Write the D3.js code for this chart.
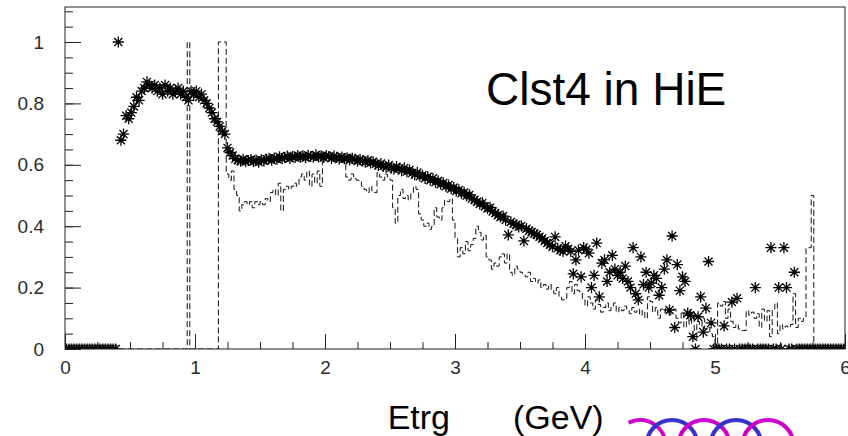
<!DOCTYPE html>
<html>
<head>
<meta charset="utf-8">
<script src="https://cdn.jsdelivr.net/npm/d3@7"></script>
<style>
  html, body { margin: 0; padding: 0; background: #ffffff; }
  svg { display: block; }
  text { font-family: "Liberation Sans", Arial, Helvetica, sans-serif; }
</style>
</head>
<body>
<svg id="chart" width="848" height="436"></svg>
<script>
// Binning: 300 bins of 0.02 GeV covering 0 - 6 GeV
const binStart = 0;
const binWidth = 0.02;

// Efficiency per bin (asterisk markers), one row = 0.2 GeV
const efficiency = [
  0,0,0,0,0,0,0,0,0,0,
  0,0,0,0,0,0,0,0,0,0,
  1.00,0.68,0.70,0.76,0.75,0.77,0.79,0.82,0.81,0.84,
  0.85,0.87,0.86,0.85,0.86,0.84,0.85,0.83,0.86,0.84,
  0.85,0.83,0.84,0.85,0.83,0.84,0.82,0.81,0.84,0.83,
  0.84,0.82,0.83,0.81,0.80,0.785,0.77,0.75,0.74,0.725,
  0.71,0.70,0.655,0.64,0.63,0.620,0.615,0.612,0.618,0.610,
  0.614,0.617,0.611,0.615,0.609,0.616,0.613,0.618,0.621,0.615,
  0.622,0.618,0.626,0.620,0.624,0.628,0.621,0.627,0.624,0.630,
  0.625,0.629,0.623,0.631,0.627,0.625,0.632,0.626,0.629,0.624,
  0.630,0.627,0.621,0.628,0.624,0.619,0.625,0.620,0.623,0.616,
  0.621,0.618,0.612,0.617,0.613,0.609,0.614,0.606,0.610,0.603,
  0.598,0.604,0.596,0.592,0.599,0.590,0.586,0.594,0.588,0.581,
  0.590,0.578,0.583,0.573,0.568,0.575,0.563,0.566,0.556,0.561,
  0.550,0.556,0.543,0.548,0.537,0.541,0.530,0.534,0.522,0.526,
  0.515,0.518,0.507,0.510,0.499,0.502,0.490,0.486,0.480,0.473,
  0.476,0.464,0.458,0.461,0.448,0.443,0.436,0.430,0.433,0.420,
  0.372,0.414,0.408,0.404,0.398,0.401,0.352,0.392,0.385,0.381,
  0.376,0.372,0.366,0.360,0.352,0.345,0.340,0.333,0.365,0.328,
  0.322,0.318,0.335,0.326,0.318,0.245,0.290,0.322,0.235,0.330,
  0.325,0.312,0.200,0.240,0.345,0.170,0.280,0.290,0.220,0.250,
  0.305,0.260,0.240,0.250,0.230,0.270,0.220,0.200,0.330,0.180,
  0.160,0.300,0.210,0.250,0.200,0.215,0.240,0.230,0.175,0.200,
  0.260,0.290,0.127,0.368,0.070,0.275,0.190,0.235,0.220,0.117,
  0.110,0.040,0.000,0.105,0.170,0.055,0.133,0.285,0.085,0.000,
  0,0,0,0.075,0,0,0.153,0,0.165,0,
  0,0,0,0,0,0.200,0,0,0,0,
  0,0.330,0,0,0.200,0,0.330,0.200,0,0,
  0.250,0,0,0,0,0,0,0,0,0,
  0,0,0,0,0,0,0,0,0,0
];

// Reference distribution per bin (dashed histogram), one row = 0.2 GeV
const reference = [
  0,0,0,0,0,0,0,0,0,0,
  0,0,0,0,0,0,0,0,0,0,
  0,0,0,0,0,0,0,0,0,0,
  0,0,0,0,0,0,0,0,0,0,
  0,0,0,0,0,0,0,1.00,0,0,
  0,0,0,0,0,0,0,0,0,1.00,
  1.00,1.00,0.57,0.55,0.58,0.52,0.50,0.45,0.47,0.48,
  0.47,0.48,0.46,0.48,0.47,0.48,0.47,0.49,0.48,0.51,
  0.52,0.50,0.54,0.45,0.52,0.53,0.52,0.53,0.54,0.53,
  0.56,0.57,0.55,0.58,0.53,0.57,0.54,0.58,0.53,0.61,
  0.62,0.63,0.62,0.61,0.62,0.63,0.62,0.61,0.56,0.55,
  0.57,0.555,0.55,0.545,0.53,0.52,0.51,0.53,0.515,0.51,
  0.575,0.56,0.55,0.57,0.56,0.55,0.46,0.41,0.50,0.52,
  0.49,0.50,0.485,0.51,0.53,0.52,0.44,0.42,0.40,0.41,
  0.39,0.40,0.46,0.43,0.42,0.46,0.485,0.48,0.49,0.42,
  0.36,0.30,0.33,0.31,0.35,0.32,0.34,0.36,0.40,0.38,
  0.355,0.37,0.30,0.29,0.26,0.28,0.27,0.30,0.31,0.28,
  0.31,0.25,0.24,0.27,0.26,0.25,0.245,0.235,0.25,0.22,
  0.23,0.215,0.225,0.20,0.21,0.195,0.21,0.19,0.18,0.20,
  0.17,0.16,0.165,0.20,0.22,0.18,0.21,0.19,0.185,0.16,
  0.14,0.17,0.15,0.13,0.16,0.145,0.12,0.135,0.15,0.125,
  0.14,0.15,0.12,0.135,0.125,0.14,0.13,0.115,0.135,0.12,
  0.13,0.11,0.125,0.10,0.17,0.155,0.12,0.135,0.10,0.13,
  0.12,0.135,0.11,0.125,0.13,0.10,0.085,0.12,0.07,0.095,
  0.08,0.12,0.03,0.09,0.075,0.10,0.065,0.07,0.05,0.04,
  0,0.15,0.14,0.155,0.10,0.13,0.09,0.07,0.08,0.065,
  0.06,0.06,0.125,0.11,0.12,0.10,0.115,0.07,0.13,0.09,
  0.125,0.04,0.13,0.15,0.05,0.08,0.065,0.075,0.07,0.08,
  0.18,0.07,0.10,0.09,0.10,0.33,0.33,0.50,0,0,
  0,0,0,0,0,0,0,0,0,0
];

// Axis ticks and labels
const xMajorTicks = [0, 1, 2, 3, 4, 5, 6];
const xMinorTicks = [0,0.25,0.5,0.75,1,1.25,1.5,1.75,2,2.25,2.5,2.75,3,3.25,3.5,3.75,4,4.25,4.5,4.75,5,5.25,5.5,5.75,6];
const yMajorTicks = [0, 0.2, 0.4, 0.6, 0.8, 1];
const yTickLabels = ["0", "0.2", "0.4", "0.6", "0.8", "1"];
const yMinorTicks = [0,0.05,0.1,0.15,0.2,0.25,0.3,0.35,0.4,0.45,0.5,0.55,0.6,0.65,0.7,0.75,0.8,0.85,0.9,0.95,1,1.05,1.1];
const xDomain = [0, 6];
const yDomain = [0, 1.114];

const titleText = "Clst4 in HiE";
const xTitleVar = "Etrg";
const xTitleUnit = "(GeV)";
const coilColors = ["#cc00cc", "#3434cc", "#cc00cc", "#3434cc", "#cc00cc"];

// ---------------------------------------------------------------
const svg = d3.select("#chart");
const frame = { left: 65, right: 845, top: 7, bottom: 349 };

const x = d3.scaleLinear().domain(xDomain).range([frame.left, frame.right]);
const y = d3.scaleLinear().domain(yDomain).range([frame.bottom, frame.top]);

svg.append("rect").attr("width", 848).attr("height", 436).attr("fill", "#fff");

svg.append("defs").append("clipPath").attr("id", "plot-clip")
  .append("rect")
  .attr("x", frame.left).attr("y", frame.top)
  .attr("width", frame.right - frame.left)
  .attr("height", frame.bottom - frame.top);

const plot = svg.append("g").attr("clip-path", "url(#plot-clip)");

// Dashed reference histogram drawn as steps
const steps = reference.map((v, i) => ({ e: binStart + i * binWidth, v }));
steps.push({ e: binStart + reference.length * binWidth, v: reference[reference.length - 1] });
const stepLine = d3.line()
  .x(d => x(d.e))
  .y(d => y(d.v))
  .curve(d3.curveStepAfter);
plot.append("path")
  .datum(steps)
  .attr("d", stepLine)
  .attr("fill", "none")
  .attr("stroke", "#111")
  .attr("stroke-width", 1)
  .attr("stroke-dasharray", "6,3");

// Asterisk markers
const r = 5.6, dg = r * 0.72;
const starPath = `M${-r},0H${r}M0,${-r}V${r}M${-dg},${-dg}L${dg},${dg}M${-dg},${dg}L${dg},${-dg}`;
plot.append("g")
  .selectAll("path")
  .data(efficiency.map((v, i) => ({ c: binStart + (i + 0.5) * binWidth, v })))
  .join("path")
  .attr("transform", d => `translate(${x(d.c)},${y(d.v)})`)
  .attr("d", starPath)
  .attr("fill", "none")
  .attr("stroke", "#000")
  .attr("stroke-width", 1.3);

// Axes: ticks point into the frame
const axisColor = "#222";
const xMinorAxis = d3.axisBottom(x).tickValues(xMinorTicks).tickSize(-7).tickFormat("");
const xMajorAxis = d3.axisBottom(x).tickValues(xMajorTicks).tickSize(-15).tickPadding(12)
  .tickFormat(d3.format("d"));
const yMinorAxis = d3.axisLeft(y).tickValues(yMinorTicks).tickSize(-8).tickFormat("");
const yMajorAxis = d3.axisLeft(y).tickValues(yMajorTicks).tickSize(-16).tickPadding(21)
  .tickFormat((d, i) => yTickLabels[i]);

function styleAxis(g) {
  g.select(".domain").remove();
  g.selectAll("line").attr("stroke", axisColor).attr("stroke-width", 1);
  g.selectAll("text").attr("fill", "#2a2a2a").attr("font-size", 19)
    .attr("font-family", "'DejaVu Sans', Verdana, sans-serif");
}

svg.append("g").attr("transform", `translate(0,${frame.bottom})`).call(xMinorAxis).call(styleAxis);
svg.append("g").attr("transform", `translate(0,${frame.bottom})`).call(xMajorAxis).call(styleAxis);
svg.append("g").attr("transform", `translate(${frame.left},0)`).call(yMinorAxis).call(styleAxis);
svg.append("g").attr("transform", `translate(${frame.left},0)`).call(yMajorAxis).call(styleAxis);

// Frame
svg.append("rect")
  .attr("x", frame.left).attr("y", frame.top)
  .attr("width", frame.right - frame.left)
  .attr("height", frame.bottom - frame.top)
  .attr("fill", "none")
  .attr("stroke", axisColor)
  .attr("stroke-width", 1);

// Title inside the plot
svg.append("text")
  .attr("x", 486).attr("y", 105)
  .attr("font-size", 46)
  .attr("fill", "#000")
  .text(titleText);

// Axis title below
svg.append("text")
  .attr("x", 450).attr("y", 429)
  .attr("text-anchor", "end")
  .attr("font-size", 34)
  .attr("fill", "#000")
  .text(xTitleVar);
svg.append("text")
  .attr("x", 513).attr("y", 429)
  .attr("font-size", 34)
  .attr("fill", "#000")
  .text(xTitleUnit);

// Coil decoration next to the axis title
const coilR = 25.7, coilY = 445.7, coilX0 = 640, coilStep = 32;
coilColors.forEach((col, i) => {
  const p = d3.path();
  const a0 = i === 0 ? 4.25 : Math.PI;
  p.arc(coilX0 + i * coilStep, coilY, coilR, a0, 2 * Math.PI);
  svg.append("path")
    .attr("d", p.toString())
    .attr("fill", "none")
    .attr("stroke", col)
    .attr("stroke-width", 4);
});
</script>
</body>
</html>
